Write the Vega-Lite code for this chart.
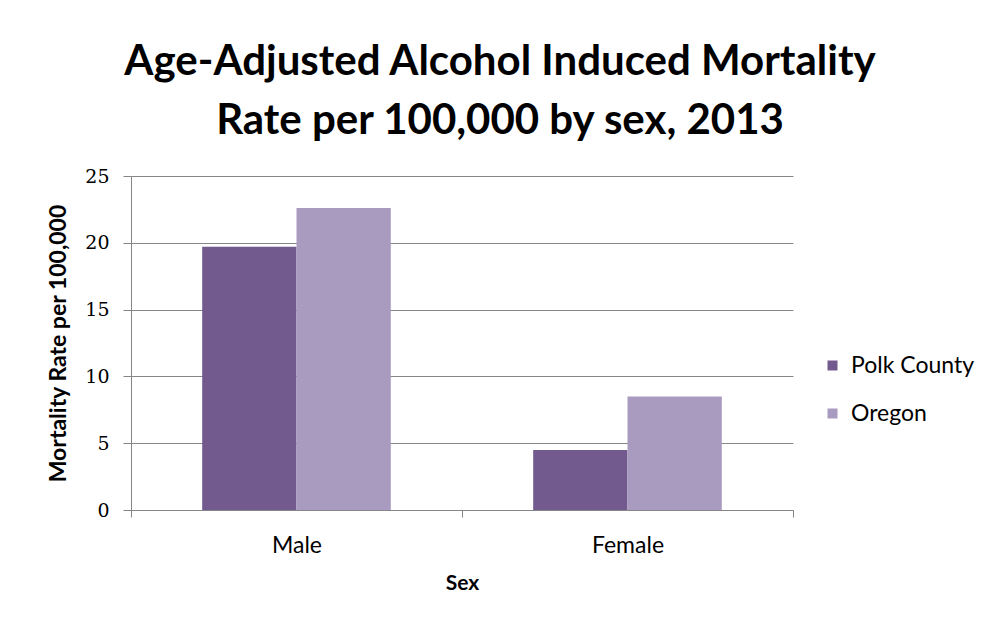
{
  "$schema": "https://vega.github.io/schema/vega-lite/v6.json",
  "autosize": {"type": "none"},
  "width": 662,
  "height": 334,
  "padding": {"left": 131, "top": 176, "right": 202, "bottom": 114},
  "background": "white",
  "title": {
    "text": ["Age-Adjusted Alcohol Induced Mortality", "Rate per 100,000 by sex, 2013"],
    "font": "Lato",
    "fontSize": 42,
    "fontWeight": "bold",
    "color": "black",
    "anchor": "middle",
    "dx": 38,
    "lineHeight": 59,
    "offset": 24
  },
  "data": {
    "values": [
      {"sex": "Male", "area": "Polk County", "rate": 19.7},
      {"sex": "Male", "area": "Oregon", "rate": 22.6},
      {"sex": "Female", "area": "Polk County", "rate": 4.5},
      {"sex": "Female", "area": "Oregon", "rate": 8.5}
    ]
  },
  "mark": {"type": "bar"},
  "encoding": {
    "x": {
      "field": "sex",
      "type": "nominal",
      "sort": ["Male", "Female"],
      "scale": {"paddingInner": 0, "paddingOuter": 0},
      "axis": {
        "title": "Sex",
        "titleFont": "Lato",
        "titleFontSize": 21,
        "titleFontWeight": "bold",
        "titleColor": "black",
        "titleY": 73,
        "titleBaseline": "middle",
        "labelAngle": 0,
        "labelFont": "Lato",
        "labelFontSize": 23,
        "labelColor": "black",
        "labelPadding": 17,
        "tickBand": "extent",
        "tickSize": 7,
        "tickColor": "#868686",
        "domainColor": "#868686",
        "grid": false
      }
    },
    "xOffset": {
      "field": "area",
      "type": "nominal",
      "sort": ["Polk County", "Oregon"],
      "scale": {"paddingInner": 0, "paddingOuter": 0.755}
    },
    "y": {
      "field": "rate",
      "type": "quantitative",
      "scale": {"domain": [0, 25]},
      "axis": {
        "title": "Mortality Rate per 100,000",
        "titleFont": "Lato",
        "titleFontSize": 23,
        "titleFontWeight": "bold",
        "titleColor": "black",
        "titleX": -73,
        "titleY": 167,
        "titleAlign": "center",
        "titleBaseline": "middle",
        "values": [0, 5, 10, 15, 20, 25],
        "labelFont": "DejaVu Serif",
        "labelFontSize": 19,
        "labelColor": "black",
        "labelPadding": 14,
        "tickSize": 8,
        "tickColor": "#868686",
        "domainColor": "#868686",
        "grid": true,
        "gridColor": "#868686",
        "gridWidth": 1
      }
    },
    "color": {
      "field": "area",
      "type": "nominal",
      "sort": ["Polk County", "Oregon"],
      "scale": {"domain": ["Polk County", "Oregon"], "range": ["#725A8E", "#A99ABF"]},
      "legend": {
        "title": null,
        "orient": "none",
        "legendX": 690,
        "legendY": 178,
        "symbolType": "square",
        "symbolSize": 100,
        "symbolStrokeWidth": 0,
        "labelFont": "Lato",
        "labelFontSize": 23,
        "labelColor": "black",
        "labelOffset": 7,
        "rowPadding": 24
      }
    }
  },
  "config": {"view": {"stroke": null}}
}
